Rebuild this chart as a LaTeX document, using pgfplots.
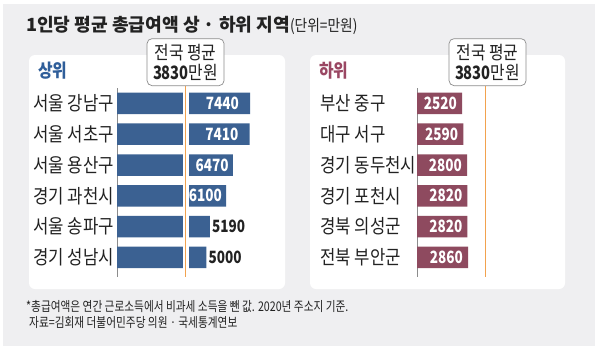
\documentclass[border=0pt]{standalone}
\usepackage{fontspec}
\usepackage{pgfplots}
\usepackage{pgfplotstable}
\pgfplotsset{compat=1.18}
\setmainfont{Noto Sans CJK KR}
\newfontfamily\cond[FakeStretch=0.86]{Noto Sans CJK KR}
\newfontfamily\numf[FakeStretch=0.8]{Noto Sans CJK KR}
\newfontfamily\foot[FakeStretch=0.8]{Noto Sans CJK KR}
\definecolor{bg}{HTML}{EFEFF1}
\definecolor{bluebar}{HTML}{3B6192}
\definecolor{redbar}{HTML}{8E4A5F}
\definecolor{bluehead}{HTML}{2F5E9A}
\definecolor{redhead}{HTML}{9A4763}
\definecolor{avg}{HTML}{F2A24E}
\definecolor{axgray}{HTML}{8C8C8C}
\definecolor{txt}{HTML}{222222}

\pgfplotstableread{
row val
0 7440
1 7410
2 6470
3 6100
4 5190
5 5000
}\topdata

\pgfplotstableread{
row val
0 2520
1 2590
2 2800
3 2820
4 2820
5 2860
}\botdata

\pgfplotsset{panel/.style={
  scale only axis, width=160bp, height=189bp,
  xmin=0, xmax=8940, ymin=-0.5, ymax=5.636, y dir=reverse,
  axis x line=none, axis y line*=left,
  axis line style={draw=axgray, line width=0.9bp, -},
  xtick=\empty, ytick={0,...,5}, major tick length=0pt,
  yticklabel style={font=\cond\fontsize{19.5}{19.5}\selectfont, text=txt, anchor=west, inner sep=0pt},
  bar width=21.5bp, clip=false,
  /pgf/number format/1000 sep={},
  /pgf/number format/assume math mode=true,
}}

\pgfplotsset{inlabels/.style={
  draw=none, mark=none, nodes near coords, point meta=x,
  nodes near coords style={anchor=east, xshift=#1, text=white,
    font=\numf\bfseries\fontsize{17}{17}\selectfont, inner sep=0pt},
}}
\pgfplotsset{outlabels/.style={
  draw=none, mark=none, nodes near coords, point meta=x,
  nodes near coords style={anchor=west, xshift=2bp, text=txt,
    font=\numf\bfseries\fontsize{17}{17}\selectfont, inner sep=0pt},
}}

\tikzset{avgbox/.style={draw=axgray, line width=0.7bp, fill=white, rounded corners=5bp,
  minimum width=77bp, minimum height=47bp, align=center, inner sep=0pt, anchor=south,
  font=\cond\fontsize{18.5}{20}\selectfont, text=txt}}

\begin{document}
\begin{tikzpicture}
\useasboundingbox (0,0) rectangle (600bp,-351bp);
\fill[white] (0,0) rectangle (600bp,-351bp);
\fill[bg] (3bp,-4bp) rectangle (595bp,-346bp);
\fill[white, rounded corners=6bp] (29bp,-55bp) rectangle (285bp,-289bp);
\fill[white, rounded corners=6bp] (310bp,-55bp) rectangle (565bp,-289bp);

\node[anchor=west, inner sep=0pt, text=txt] at (26bp,-25.5bp)
  {\fontsize{18.2}{18}\selectfont\bfseries 1인당 평균 총급여액 상 · 하위 지역{\mdseries\cond\fontsize{16}{16}\selectfont(단위=만원)}};
\node[anchor=west, inner sep=0pt, text=bluehead] at (38bp,-70.7bp)
  {\cond\bfseries\fontsize{18.5}{18}\selectfont 상위};
\node[anchor=west, inner sep=0pt, text=redhead] at (319bp,-70.7bp)
  {\cond\bfseries\fontsize{18.5}{18}\selectfont 하위};

\node[anchor=west, inner sep=0pt, font=\foot\fontsize{13.4}{13}\selectfont, text=txt] at (26bp,-307bp)
  {*총급여액은 연간 근로소득에서 비과세 소득을 뺀 값. 2020년 주소지 기준.};
\node[anchor=west, inner sep=0pt, font=\foot\fontsize{13.4}{13}\selectfont, text=txt] at (29bp,-323bp)
  {자료=김회재 더불어민주당 의원 · 국세통계연보};

\begin{axis}[panel, at={(117bp,-277bp)}, anchor=south west,
  yticklabels={서울 강남구,서울 서초구,서울 용산구,경기 과천시,서울 송파구,경기 성남시},
  yticklabel style={xshift=-84bp}]
\addplot[xbar, bar shift=0pt, fill=bluebar, draw=none] table[x=val, y=row]{\topdata};
\addplot[white, line width=6bp] coordinates {(3830,-0.5) (3830,5.636)};
\addplot[avg, line width=1.2bp] coordinates {(3830,-0.565) (3830,5.636)};
\addplot[inlabels=-11bp, skip coords between index={2}{6}] table[x=val, y=row]{\topdata};
\addplot[inlabels=-4bp, skip coords between index={0}{2}, skip coords between index={4}{6}] table[x=val, y=row]{\topdata};
\addplot[outlabels, skip coords between index={0}{4}] table[x=val, y=row]{\topdata};
\node[avgbox] at (axis cs:3830,-0.565) {전국 평균\\{\numf\bfseries 3830}만원};
\end{axis}

\begin{axis}[panel, at={(417bp,-277bp)}, anchor=south west,
  yticklabels={부산 중구,대구 서구,경기 동두천시,경기 포천시,경북 의성군,전북 부안군},
  yticklabel style={xshift=-97bp}]
\addplot[xbar, bar shift=0pt, fill=redbar, draw=none] table[x=val, y=row]{\botdata};
\addplot[avg, line width=1.2bp] coordinates {(3830,-0.565) (3830,5.636)};
\addplot[inlabels=-5bp] table[x=val, y=row]{\botdata};
\node[avgbox, xshift=2bp] at (axis cs:3830,-0.565) {전국 평균\\{\numf\bfseries 3830}만원};
\end{axis}
\end{tikzpicture}
\end{document}
